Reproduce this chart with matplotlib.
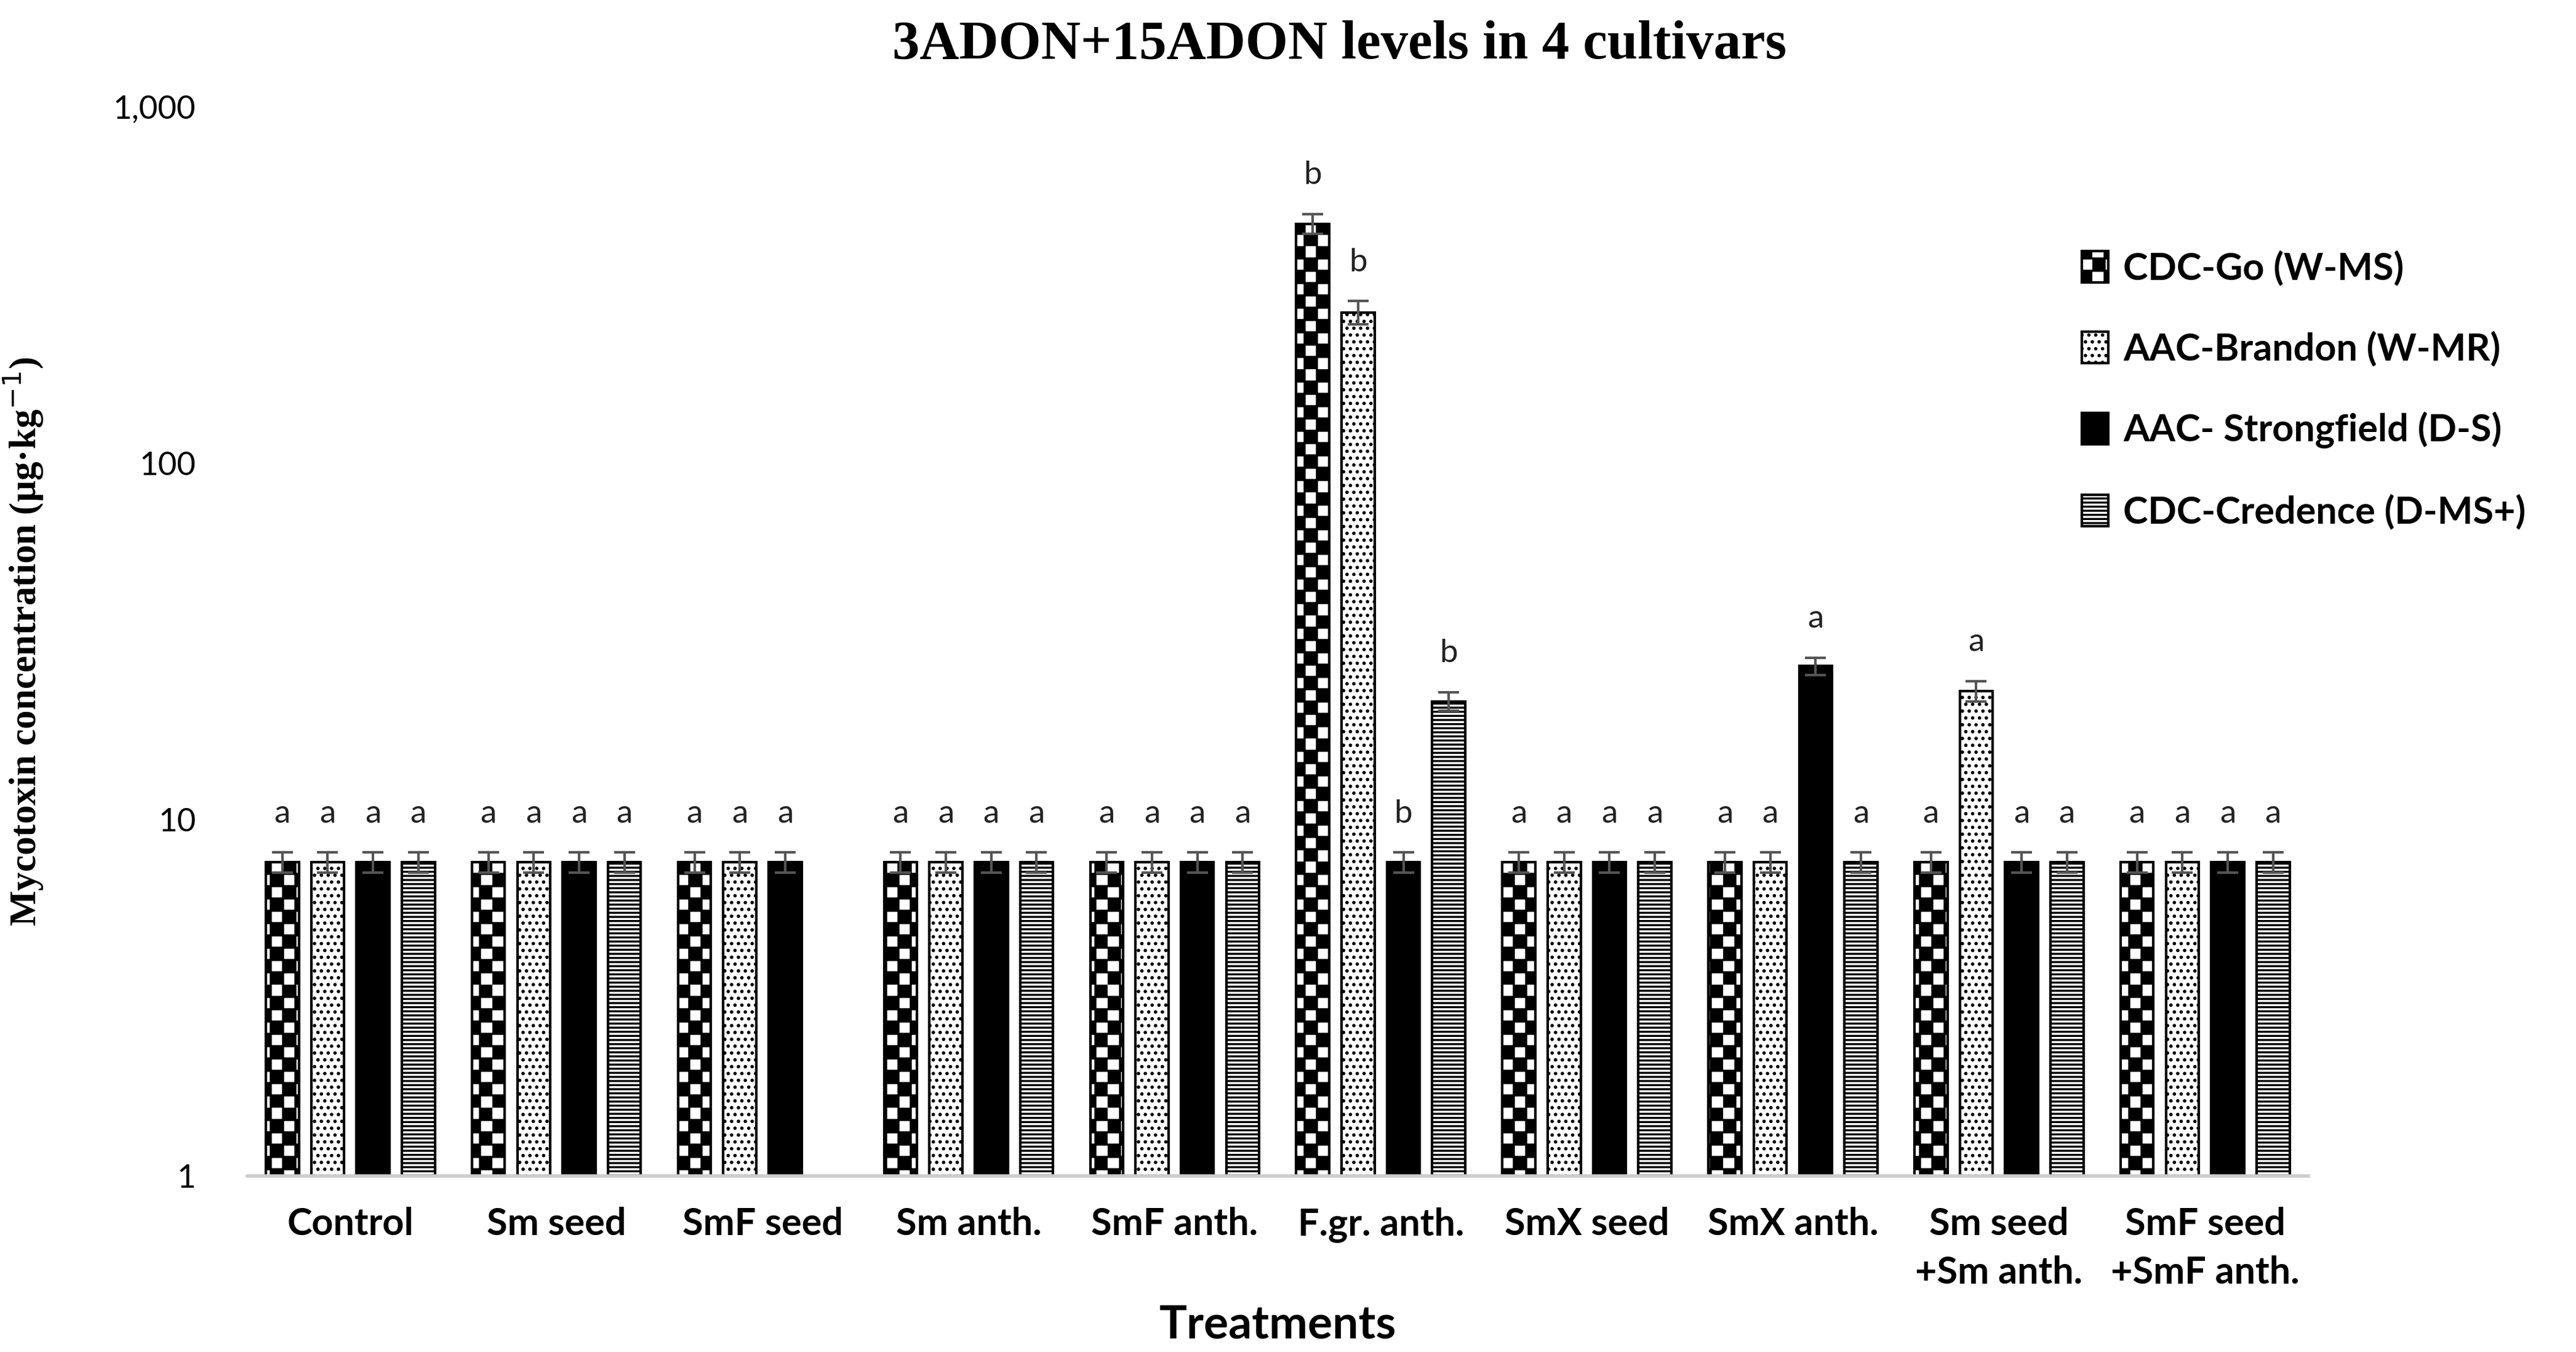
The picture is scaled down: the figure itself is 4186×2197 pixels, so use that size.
import numpy as np
import matplotlib
matplotlib.use("Agg")
import matplotlib.pyplot as plt
from matplotlib import hatch as mh
from matplotlib.path import Path

class Checker(mh.HatchPatternBase):
    def __init__(self, hatch, density):
        self.n = 10 if 'c' in hatch else 0
        self.num_vertices = (self.n * self.n // 2) * 5
    def set_vertices_and_codes(self, vertices, codes):
        k = 0
        s = 1.0 / self.n
        for i in range(self.n):
            for j in range(self.n):
                if (i + j) % 2 == 0:
                    x0, y0 = i * s, j * s
                    vertices[k:k+5] = [(x0, y0), (x0+s, y0), (x0+s, y0+s), (x0, y0+s), (x0, y0)]
                    codes[k:k+5] = [Path.MOVETO, Path.LINETO, Path.LINETO, Path.LINETO, Path.CLOSEPOLY]
                    k += 5
mh._hatch_types.append(Checker)

treatments = ["Control", "Sm seed", "SmF seed", "Sm anth.", "SmF anth.", "F.gr. anth.",
              "SmX seed", "SmX anth.", "Sm seed\n+Sm anth.", "SmF seed\n+SmF anth."]
cultivars = ["CDC-Go (W-MS)", "AAC-Brandon (W-MR)", "AAC- Strongfield (D-S)", "CDC-Credence (D-MS+)"]
cdc_go = [7.6, 7.6, 7.6, 7.6, 7.6, 470, 7.6, 7.6, 7.6, 7.6]
brandon = [7.6, 7.6, 7.6, 7.6, 7.6, 265, 7.6, 7.6, 23, 7.6]
strongfield = [7.6, 7.6, 7.6, 7.6, 7.6, 7.6, 7.6, 27, 7.6, 7.6]
credence = [7.6, 7.6, np.nan, 7.6, 7.6, 21.5, 7.6, 7.6, 7.6, 7.6]
errors_go = [0.5, 0.5, 0.5, 0.5, 0.5, 30, 0.5, 0.5, 0.5, 0.5]
errors_br = [0.5, 0.5, 0.5, 0.5, 0.5, 20, 0.5, 0.5, 1.5, 0.5]
errors_sf = [0.5, 0.5, 0.5, 0.5, 0.5, 0.5, 0.5, 1.5, 0.5, 0.5]
errors_cr = [0.5, 0.5, 0.0, 0.5, 0.5, 1.3, 0.5, 0.5, 0.5, 0.5]
letters_go = ["a", "a", "a", "a", "a", "b", "a", "a", "a", "a"]
letters_br = ["a", "a", "a", "a", "a", "b", "a", "a", "a", "a"]
letters_sf = ["a", "a", "a", "a", "a", "b", "a", "a", "a", "a"]
letters_cr = ["a", "a", "", "a", "a", "b", "a", "a", "a", "a"]

series = [cdc_go, brandon, strongfield, credence]
errs = [errors_go, errors_br, errors_sf, errors_cr]
lets = [letters_go, letters_br, letters_sf, letters_cr]
hatches = ["c", "...", None, "-----"]
faces = ["white", "white", "black", "white"]

plt.rcParams["hatch.linewidth"] = 1.2
fig = plt.figure(figsize=(20.93, 10.985), dpi=200)
ax = fig.add_axes([0.096, 0.130, 0.80, 0.791])
x = np.arange(len(treatments))
w = 0.16
offs = [-0.33, -0.11, 0.11, 0.33]
for s, e, l, h, fc, o, name in zip(series, errs, lets, hatches, faces, offs, cultivars):
    vals = np.array(s, dtype=float)
    ax.bar(x + o, vals, w, color=fc, edgecolor="black", hatch=h, linewidth=1.5, label=name)
    ax.errorbar(x + o, vals, yerr=e, fmt="none", ecolor="#555555", capsize=6, elinewidth=1.5, capthick=1.5)
    for xi, v, ei, li in zip(x, vals, e, l):
        if li and not np.isnan(v):
            ax.text(xi + o, (v + ei) * 1.17, li, ha="center", va="bottom", fontsize=19,
                    family="Lato", color="#222222")

ax.set_yscale("log")
ax.set_ylim(1, 1000)
ax.set_xlim(-0.5, len(treatments) - 0.5)
ax.set_yticks([1, 10, 100, 1000])
ax.set_yticklabels(["1", "10", "100", "1,000"], fontsize=19, family="Lato")
ax.minorticks_off()
ax.set_xticks(x)
ax.set_xticklabels(treatments, fontsize=22, family="Lato", fontweight="bold", linespacing=1.5)
ax.tick_params(length=0, pad=18)
ax.tick_params(axis="y", pad=30)
for sp in ["top", "right", "left"]:
    ax.spines[sp].set_visible(False)
ax.spines["bottom"].set_color("#cccccc")
ax.spines["bottom"].set_linewidth(2)
ax.set_xlabel("Treatments", fontsize=27, family="Lato", fontweight="bold", labelpad=8)
ax.set_ylabel("Mycotoxin concentration (µg·kg$^{-1}$)", fontsize=22, family="Liberation Serif",
              fontweight="bold", labelpad=40)
fig.suptitle("3ADON+15ADON levels in 4 cultivars", x=0.52, y=0.985, fontsize=32,
             family="Liberation Serif", fontweight="bold")
fig.legend(loc="upper left", bbox_to_anchor=(0.795, 0.84), frameon=False,
           prop={"family": "Lato", "weight": "bold", "size": 22}, handlelength=0.7,
           handleheight=0.9, handletextpad=0.4, labelspacing=1.2)
fig.savefig("out.png", dpi=200)
